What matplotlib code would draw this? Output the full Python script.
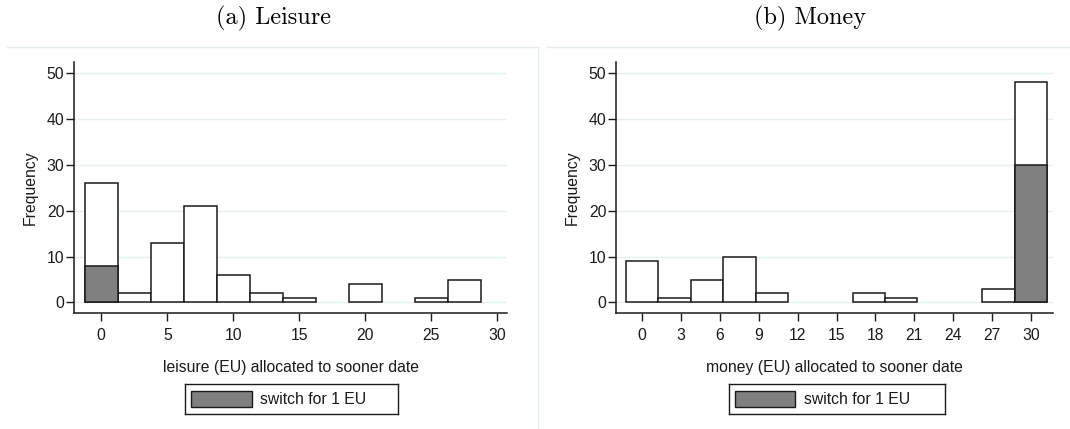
import matplotlib
matplotlib.use("Agg")
import matplotlib.pyplot as plt
from matplotlib.lines import Line2D
from matplotlib.patches import Rectangle
import numpy as np

# Histogram bins (centres, width 2.5) shared by both panels
bin_centers = np.arange(0, 30.1, 2.5)
bin_width = 2.5

# Leisure allocations: all subjects and those who switch for 1 EU
leisure_counts = [26, 2, 13, 21, 6, 2, 1, 0, 4, 0, 1, 5, 0]
leisure_switch = [8, 0, 0, 0, 0, 0, 0, 0, 0, 0, 0, 0, 0]

# Money allocations
money_counts = [9, 1, 5, 10, 2, 0, 0, 2, 1, 0, 0, 3, 48]
money_switch = [0, 0, 0, 0, 0, 0, 0, 0, 0, 0, 0, 0, 30]

leisure_ticks = [0, 5, 10, 15, 20, 25, 30]
money_ticks = [0, 3, 6, 9, 12, 15, 18, 21, 24, 27, 30]
freq_ticks = [0, 10, 20, 30, 40, 50]

W, H = 1070, 429
fig = plt.figure(figsize=(W / 100, H / 100), dpi=100)
plt.rcParams['font.family'] = ['Liberation Sans', 'DejaVu Sans']

INK = '#1a1a1a'
GRID = '#e6eef1'
FRAME = '#e3ebef'
FS = 11.3


def px_axes(x0, y0, x1, y1):
    # y0/y1 are pixel rows from the top of the image
    return fig.add_axes([x0 / W, 1 - y1 / H, (x1 - x0) / W, (y1 - y0) / H])


def draw_panel(x0, x1, xlim, counts, switch, xticks, xlabel, title, title_x):
    ax = px_axes(x0, 61.7, x1, 313)
    ax.set_xlim(*xlim)
    ax.set_ylim(-2.3, 52.5)
    for s in ['top', 'right']:
        ax.spines[s].set_visible(False)
    for s in ['left', 'bottom']:
        ax.spines[s].set_color(INK)
        ax.spines[s].set_linewidth(1.1)
    ax.set_yticks(freq_ticks)
    ax.set_xticks(xticks)
    ax.tick_params(axis='both', colors=INK, labelcolor=INK, labelsize=FS,
                   length=6, width=1.0, direction='out')
    ax.tick_params(axis='y', pad=1)
    ax.tick_params(axis='x', pad=5)
    ax.yaxis.grid(True, color=GRID, linewidth=1.0)
    ax.set_axisbelow(True)

    c = np.array(counts)
    s = np.array(switch)
    m = c > 0
    ax.bar(bin_centers[m], c[m], width=bin_width, color='white',
           edgecolor=INK, linewidth=1.1, zorder=2)
    m2 = s > 0
    ax.bar(bin_centers[m2], s[m2], width=bin_width, color='#808080',
           edgecolor=INK, linewidth=1.1, zorder=3)

    ax.set_ylabel('Frequency', fontsize=FS, color=INK, labelpad=6)
    ax.set_xlabel(xlabel, fontsize=FS, color=INK, labelpad=12)
    fig.text(title_x / W, 1 - 18 / H, title, family='cmr10', fontsize=17.5,
             ha='center', va='center', color='black')
    return ax


draw_panel(74, 507.3, (-2.07, 30.77), leisure_counts, leisure_switch,
           leisure_ticks, 'leisure (EU) allocated to sooner date',
           '(a) Leisure', 273)
draw_panel(616, 1053.3, (-2.03, 31.74), money_counts, money_switch,
           money_ticks, 'money (EU) allocated to sooner date',
           '(b) Money', 810)


# Legend boxes under each panel
def draw_key(x0, x1):
    lg = px_axes(x0, 384, x1, 414)
    lg.set_xlim(x0, x1)
    lg.set_ylim(414, 384)
    lg.set_xticks([])
    lg.set_yticks([])
    for sp in lg.spines.values():
        sp.set_color(INK)
        sp.set_linewidth(1.0)
    lg.add_patch(Rectangle((x0 + 6, 390.7), 60.7, 16, facecolor='#808080',
                           edgecolor=INK, linewidth=1.0))
    lg.text(x0 + 75, 399, 'switch for 1 EU', fontsize=FS, color=INK,
            ha='left', va='center')


draw_key(185, 397.7)
draw_key(728.7, 945)

# Light frames around the two graph regions
frame = dict(color=FRAME, linewidth=1.0, transform=fig.transFigure)
fig.add_artist(Line2D([7 / W, 538.3 / W], [1 - 46.7 / H, 1 - 46.7 / H], **frame))
fig.add_artist(Line2D([538.3 / W, 538.3 / W], [1 - 46.7 / H, 1 - 428 / H], **frame))
fig.add_artist(Line2D([546.7 / W, 1.0], [1 - 46.7 / H, 1 - 46.7 / H], **frame))

fig.savefig('out.png', dpi=100)
